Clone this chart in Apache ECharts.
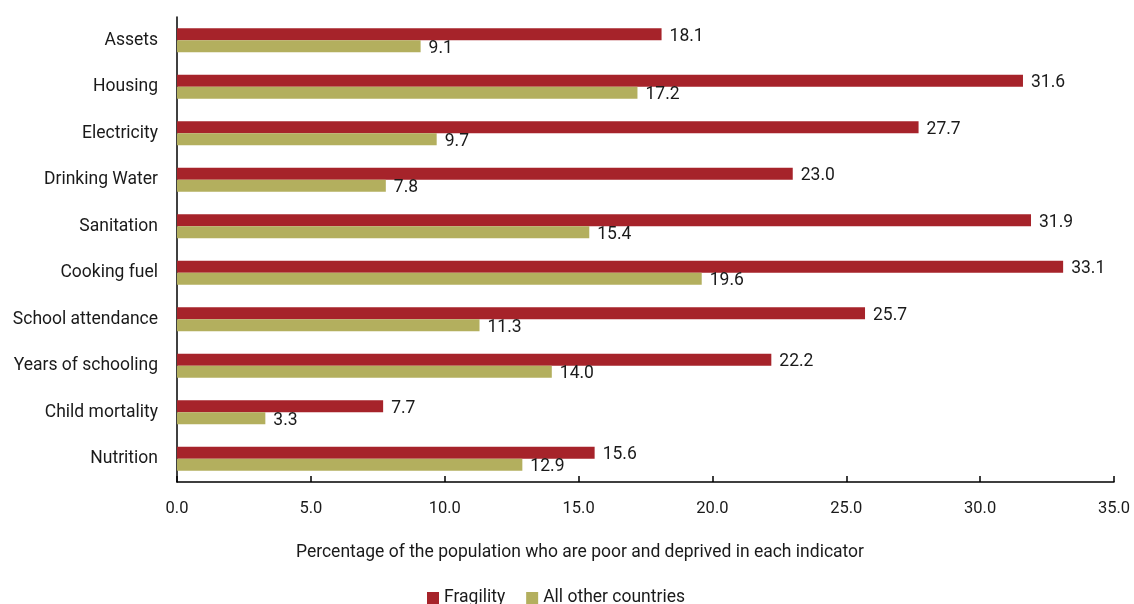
<!DOCTYPE html>
<html>
<head>
<meta charset="utf-8">
<script src="https://cdn.jsdelivr.net/npm/echarts@6/dist/echarts.min.js"></script>
<style>
html,body{margin:0;padding:0;background:#fff;}
#chart{width:1134px;height:604px;}
</style>
</head>
<body>
<div id="chart"></div>
<script>
const categories = ["Assets","Housing","Electricity","Drinking Water","Sanitation","Cooking fuel","School attendance","Years of schooling","Child mortality","Nutrition"];
const fragility = [18.1,31.6,27.7,23.0,31.9,33.1,25.7,22.2,7.7,15.6];
const otherCountries = [9.1,17.2,9.7,7.8,15.4,19.6,11.3,14.0,3.3,12.9];
const seriesNames = ["Fragility","All other countries"];
const axisTitle = "Percentage of the population who are poor and deprived in each indicator";

const FONT = "Roboto";
const FS = 17.5;
const chart = echarts.init(document.getElementById('chart'), null, {renderer:'canvas'});
const labelCfg = {show:true, position:'right', distance:8, offset:[0,2], color:'#1a1a1a', fontSize:FS, fontFamily:FONT, formatter: p => p.value.toFixed(1)};
chart.setOption({
  animation:false,
  textStyle:{fontFamily:FONT},
  grid:{left:177, right:20, top:17, bottom:122, containLabel:false},
  legend:{
    data:seriesNames, left:422, top:584, icon:'rect', itemWidth:12, itemHeight:12, itemGap:21,
    textStyle:{fontSize:FS, color:'#1a1a1a', fontFamily:FONT}
  },
  xAxis:{
    type:'value', min:0, max:35, interval:5,
    name:axisTitle, nameLocation:'middle', nameGap:62,
    nameTextStyle:{fontSize:FS, color:'#1a1a1a', fontFamily:FONT, padding:[0,131,0,0]},
    axisLine:{show:true, lineStyle:{color:'#000', width:1.5}},
    axisTick:{show:true, inside:true, length:6, lineStyle:{color:'#000', width:1.5}},
    axisLabel:{fontSize:16.5, color:'#1a1a1a', margin:18, fontFamily:FONT, formatter:v=>v.toFixed(1)},
    splitLine:{show:false}
  },
  yAxis:{
    type:'category', data:categories, inverse:true,
    axisLine:{show:true, lineStyle:{color:'#000', width:1.5}},
    axisTick:{show:false},
    axisLabel:{fontSize:FS, color:'#1a1a1a', margin:19, fontFamily:FONT}
  },
  series:[
    {name:seriesNames[0], type:'bar', data:fragility, barWidth:12, barGap:'0%', itemStyle:{color:'#A6232A'}, label:labelCfg},
    {name:seriesNames[1], type:'bar', data:otherCountries, barWidth:12, barGap:'0%', itemStyle:{color:'#B3AF5E'}, label:labelCfg}
  ]
});
</script>
</body>
</html>
